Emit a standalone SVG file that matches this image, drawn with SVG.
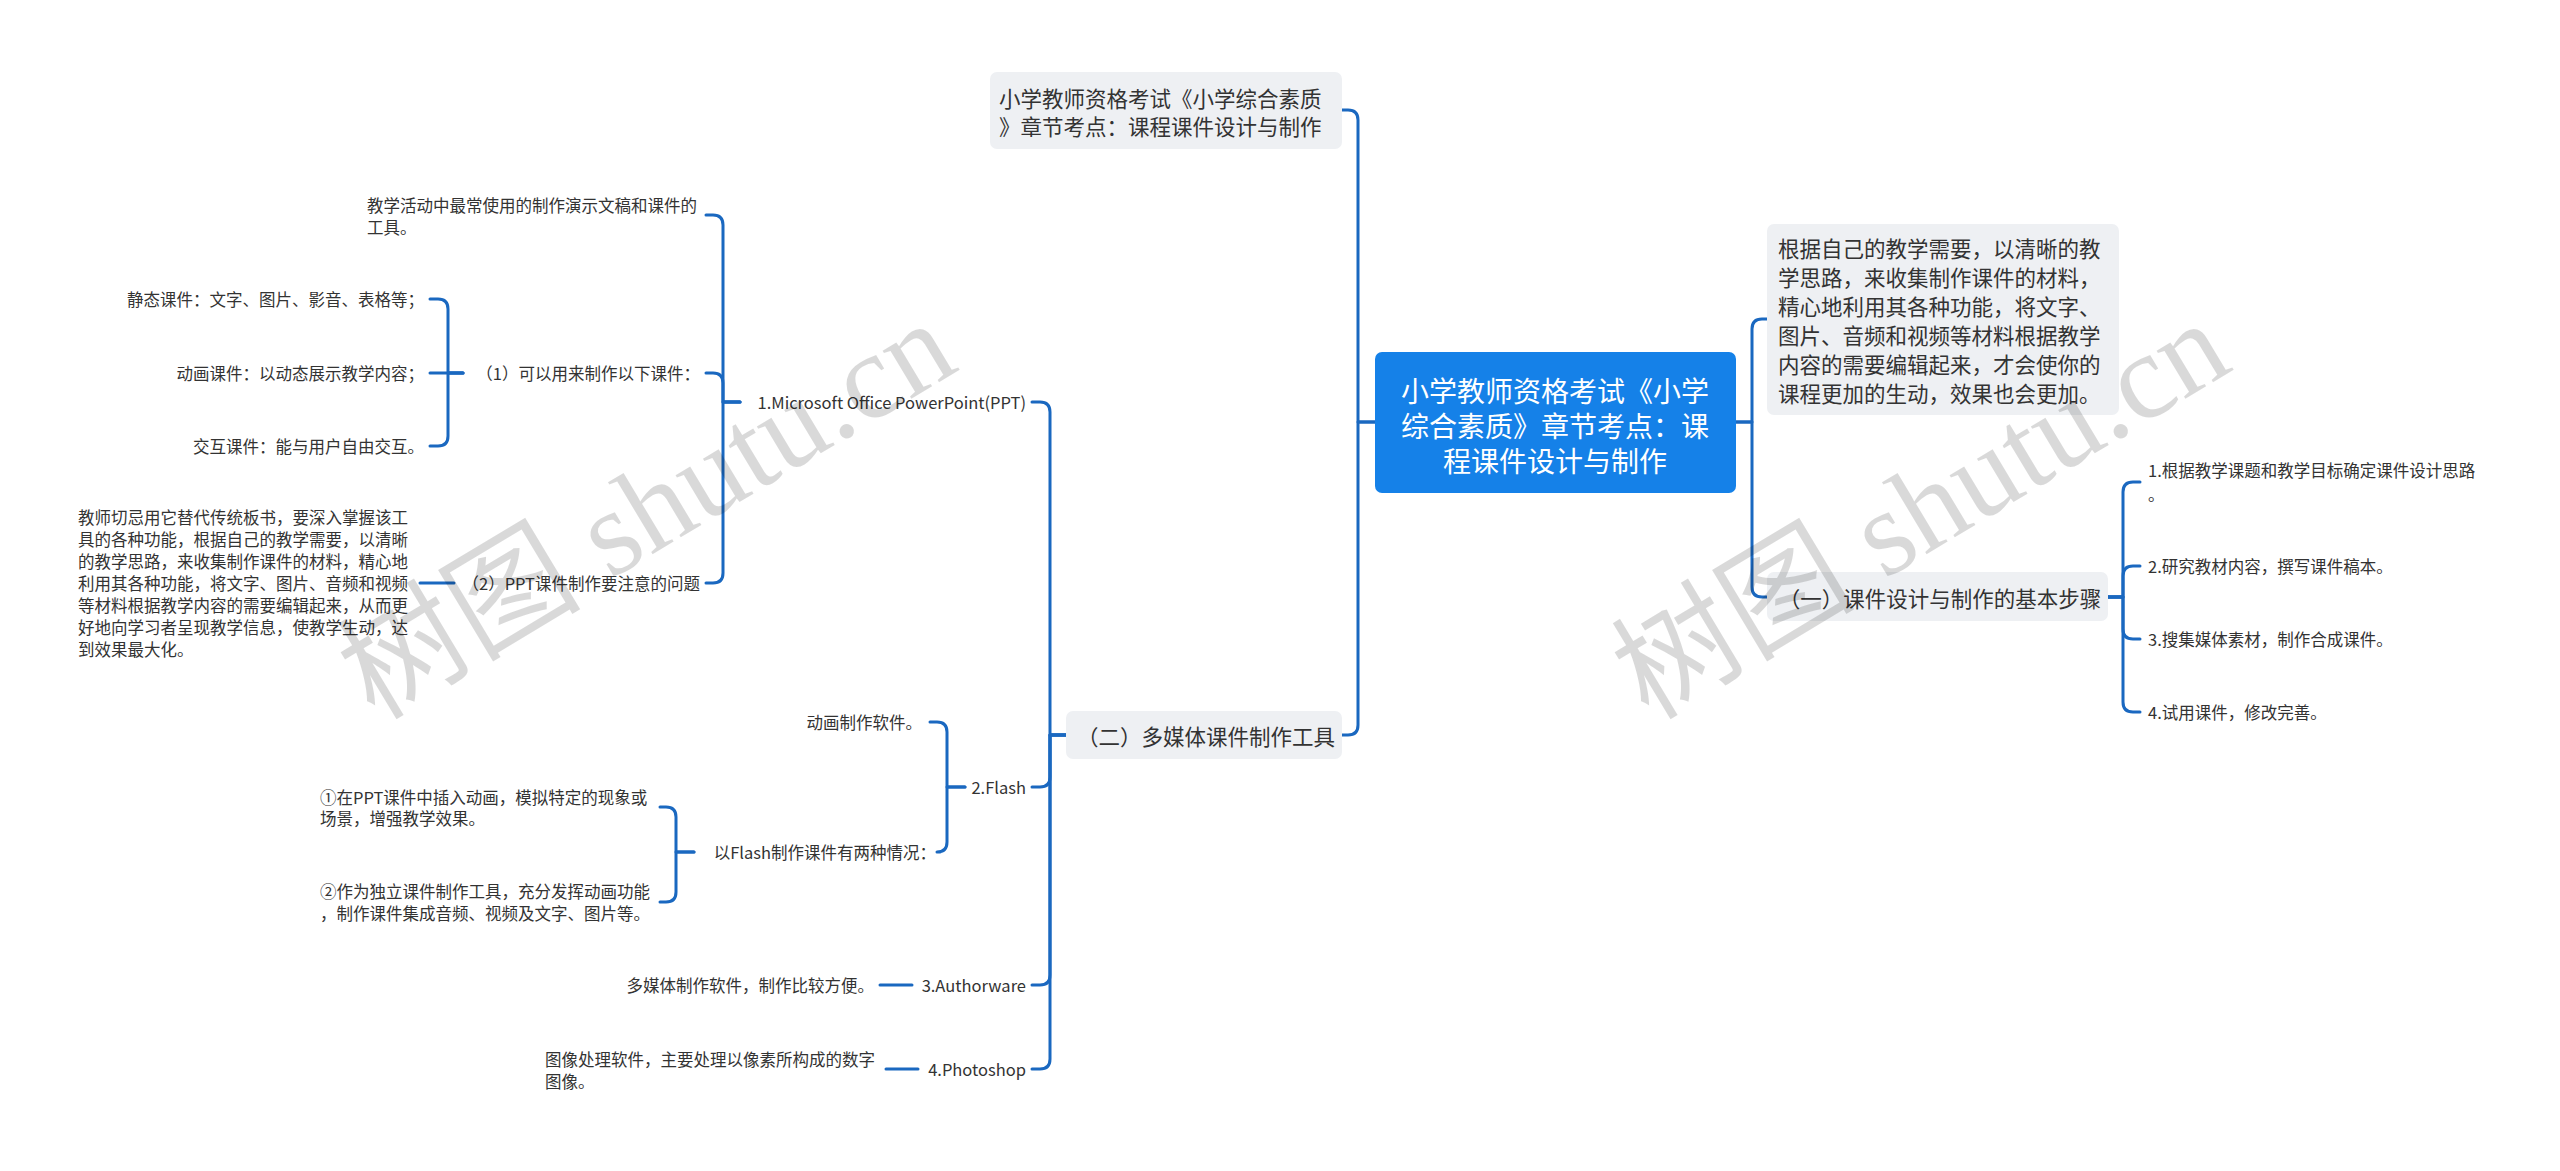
<svg xmlns="http://www.w3.org/2000/svg" width="2560" height="1171" viewBox="0 0 2560 1171">
<style>
.bg{fill:#ffffff}
.box{fill:#eef0f3}
.root{fill:#1581e8}
.s{font-family:"Noto Sans CJK SC","Liberation Sans",sans-serif;font-size:16.5px;fill:#333;dominant-baseline:central}
.m{font-family:"Noto Sans CJK SC","Liberation Sans",sans-serif;font-size:21.5px;fill:#333;dominant-baseline:central}
.r{font-family:"Noto Sans CJK SC","Liberation Sans",sans-serif;font-size:28px;fill:#fff;dominant-baseline:central;text-anchor:middle}
.e{text-anchor:end}
.c{text-anchor:middle}
.ln path{fill:none;stroke:#1a68c0;stroke-width:3;stroke-linecap:round;stroke-linejoin:round}
.wm{font-family:"Liberation Serif","Noto Sans CJK SC",serif;font-size:122px;fill:#000;fill-opacity:0.15}
</style>
<rect class="bg" x="0" y="0" width="2560" height="1171"/>

<g id="connectors" class="ln">
<path d="M1375,422 H1358 V120 Q1358,110 1348,110 H1342"/>
<path d="M1375,422 H1358 V725 Q1358,735 1348,735 H1342"/>
<path d="M1736,422 H1752 V329 Q1752,319 1762,319 H1767"/>
<path d="M1736,422 H1752 V587 Q1752,597 1762,597 H1767"/>
<path d="M2108,597 H2123 V492 Q2123,482 2133,482 H2140"/>
<path d="M2108,597 H2123 V576 Q2123,566 2133,566 H2140"/>
<path d="M2108,597 H2123 V629 Q2123,639 2133,639 H2140"/>
<path d="M2108,597 H2123 V702 Q2123,712 2133,712 H2140"/>
<path d="M1066,735 H1050 V412 Q1050,402 1040,402 H1032"/>
<path d="M1066,735 H1050 V777 Q1050,787 1040,787 H1032"/>
<path d="M1066,735 H1050 V975 Q1050,985 1040,985 H1032"/>
<path d="M1066,735 H1050 V1059 Q1050,1069 1040,1069 H1032"/>
<path d="M740,402 H723 V225 Q723,215 713,215 H706"/>
<path d="M740,402 H723 V383 Q723,373 713,373 H706"/>
<path d="M740,402 H723 V573 Q723,583 713,583 H706"/>
<path d="M463,373 H448 V309 Q448,299 438,299 H430"/>
<path d="M463,373 H430"/>
<path d="M463,373 H448 V436 Q448,446 438,446 H430"/>
<path d="M454,583 H420"/>
<path d="M965,787 H947 V732 Q947,722 937,722 H930"/>
<path d="M965,787 H947 V842 Q947,852 937,852 H940"/>
<path d="M694,852 H676 V817 Q676,807 666,807 H660"/>
<path d="M694,852 H676 V892 Q676,902 666,902 H660"/>
<path d="M912,985 H880"/>
<path d="M918,1069 H886"/>
</g>

<g id="root">
<rect class="root" x="1375" y="352" width="361" height="141" rx="7"/>
<text class="r" x="1555" y="390">小学教师资格考试《小学</text>
<text class="r" x="1555" y="425">综合素质》章节考点：课</text>
<text class="r" x="1555" y="460">程课件设计与制作</text>
</g>

<g id="n-title">
<rect class="box" x="990" y="72" width="352" height="77" rx="7"/>
<text class="m" x="999" y="97">小学教师资格考试《小学综合素质</text>
<text class="m" x="999" y="125">》章节考点：课程课件设计与制作</text>
</g>

<g id="n-desc">
<rect class="box" x="1767" y="224" width="352" height="191" rx="7"/>
<text class="m" x="1778" y="247">根据自己的教学需要，以清晰的教</text>
<text class="m" x="1778" y="276">学思路，来收集制作课件的材料，</text>
<text class="m" x="1778" y="305">精心地利用其各种功能，将文字、</text>
<text class="m" x="1778" y="334">图片、音频和视频等材料根据教学</text>
<text class="m" x="1778" y="363">内容的需要编辑起来，才会使你的</text>
<text class="m" x="1778" y="392">课程更加的生动，效果也会更加。</text>
</g>

<g id="n-steps">
<rect class="box" x="1767" y="572" width="341" height="49" rx="7"/>
<text class="m c" x="1940" y="597">（一）课件设计与制作的基本步骤</text>
</g>
<g id="n-step1">
<text class="s" x="2148" y="470">1.根据教学课题和教学目标确定课件设计思路</text>
<text class="s" x="2148" y="494">。</text>
</g>
<g id="n-step2"><text class="s" x="2148" y="566">2.研究教材内容，撰写课件稿本。</text></g>
<g id="n-step3"><text class="s" x="2148" y="639">3.搜集媒体素材，制作合成课件。</text></g>
<g id="n-step4"><text class="s" x="2148" y="712">4.试用课件，修改完善。</text></g>

<g id="n-tools">
<rect class="box" x="1066" y="711" width="276" height="48" rx="7"/>
<text class="m c" x="1206" y="735">（二）多媒体课件制作工具</text>
</g>

<g id="n-ppt"><text class="s e" x="1026" y="402">1.Microsoft Office PowerPoint(PPT)</text></g>
<g id="n-ppt-def">
<text class="s" x="367" y="205">教学活动中最常使用的制作演示文稿和课件的</text>
<text class="s" x="367" y="227">工具。</text>
</g>
<g id="n-ppt-1"><text class="s e" x="700" y="373">（1）可以用来制作以下课件：</text></g>
<g id="n-ppt-1a"><text class="s e" x="424" y="299">静态课件：文字、图片、影音、表格等；</text></g>
<g id="n-ppt-1b"><text class="s e" x="424" y="373">动画课件：以动态展示教学内容；</text></g>
<g id="n-ppt-1c"><text class="s e" x="424" y="446">交互课件：能与用户自由交互。</text></g>
<g id="n-ppt-2"><text class="s e" x="700" y="583">（2）PPT课件制作要注意的问题</text></g>
<g id="n-ppt-2a">
<text class="s" x="78" y="517">教师切忌用它替代传统板书，要深入掌握该工</text>
<text class="s" x="78" y="539">具的各种功能，根据自己的教学需要，以清晰</text>
<text class="s" x="78" y="561">的教学思路，来收集制作课件的材料，精心地</text>
<text class="s" x="78" y="583">利用其各种功能，将文字、图片、音频和视频</text>
<text class="s" x="78" y="605">等材料根据教学内容的需要编辑起来，从而更</text>
<text class="s" x="78" y="627">好地向学习者呈现教学信息，使教学生动，达</text>
<text class="s" x="78" y="649">到效果最大化。</text>
</g>

<g id="n-flash"><text class="s e" x="1026" y="787">2.Flash</text></g>
<g id="n-flash-def"><text class="s e" x="922" y="722">动画制作软件。</text></g>
<g id="n-flash-use"><text class="s e" x="936" y="852">以Flash制作课件有两种情况：</text></g>
<g id="n-flash-u1">
<text class="s" x="320" y="797">①在PPT课件中插入动画，模拟特定的现象或</text>
<text class="s" x="320" y="818">场景，增强教学效果。</text>
</g>
<g id="n-flash-u2">
<text class="s" x="320" y="891">②作为独立课件制作工具，充分发挥动画功能</text>
<text class="s" x="320" y="913">，制作课件集成音频、视频及文字、图片等。</text>
</g>

<g id="n-auth"><text class="s e" x="1026" y="985">3.Authorware</text></g>
<g id="n-auth-def"><text class="s e" x="874" y="985">多媒体制作软件，制作比较方便。</text></g>

<g id="n-ps"><text class="s e" x="1026" y="1069">4.Photoshop</text></g>
<g id="n-ps-def">
<text class="s" x="545" y="1059">图像处理软件，主要处理以像素所构成的数字</text>
<text class="s" x="545" y="1081">图像。</text>
</g>

<g id="watermarks">
<text class="wm" text-anchor="middle" transform="translate(668,545) rotate(-31)">树图 shutu.cn</text>
<text class="wm" text-anchor="middle" transform="translate(1942,545) rotate(-31)">树图 shutu.cn</text>
</g>
</svg>
